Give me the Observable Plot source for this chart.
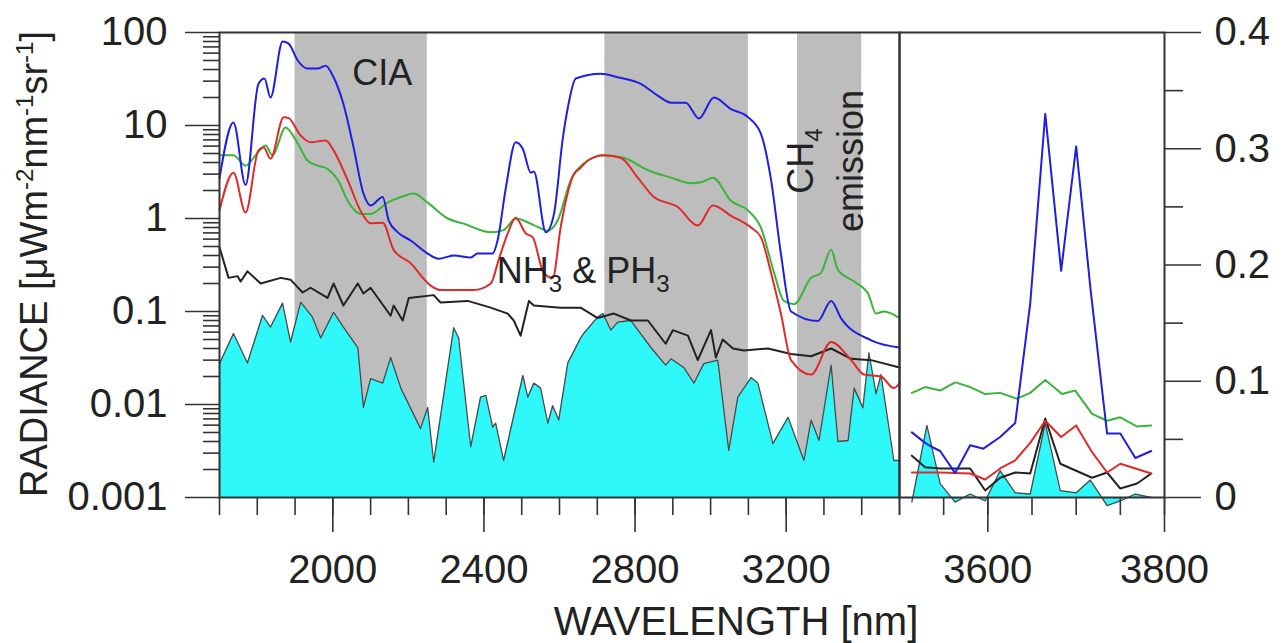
<!DOCTYPE html>
<html><head><meta charset="utf-8">
<script src="https://cdn.jsdelivr.net/npm/d3@7"></script>
<script src="https://cdn.jsdelivr.net/npm/@observablehq/plot@0.6"></script>
<style>
body{margin:0;background:#fff;font-family:"Liberation Sans",Arial,sans-serif;}
#chart{position:relative;width:1284px;height:643px;overflow:hidden;}
#chart svg{position:absolute;top:0;overflow:visible;}
</style></head><body><div id="chart"></div>
<script>
// ---------- data ----------
const bands = [{x1:1900,x2:2250},{x1:2720,x2:3100},{x1:3230,x2:3400}];

const blueLeft = [[1700,2.7],[1737,10.8],[1769,2.3],[1803,28],[1819,32],[1835,20],[1867,80],[1883,76],[1907,50],[1933,41],[1960,41],[1981,44],[2002,33],[2028,17],[2055,5.8],[2081,1.86],[2100,1.38],[2132,1.7],[2148,0.95],[2172,0.71],[2206,0.58],[2251,0.42],[2280,0.37],[2320,0.40],[2365,0.38],[2383,0.42],[2423,0.42],[2436,0.58],[2458,2.14],[2484,6.6],[2503,5.6],[2524,3.1],[2532,3.2],[2564,0.71],[2585,1.1],[2609,7.4],[2622,15.5],[2643,32],[2709,36],[2754,33],[2815,28],[2860,21],[2895,17.6],[2934,17.6],[2969,11.9],[3009,20],[3054,15],[3099,12.3],[3133,8.2],[3160,2.6],[3186,0.42],[3213,0.1],[3284,0.079],[3319,0.13],[3345,0.085],[3425,0.049],[3500,0.041]];

const redLeft = [[1700,1.22],[1737,3.1],[1769,1.16],[1803,5.4],[1817,5.8],[1835,4.4],[1870,12.3],[1883,12],[1915,7.8],[1941,6.6],[1981,6.9],[2002,5.4],[2039,2.6],[2074,1.2],[2100,0.89],[2132,0.9],[2161,0.46],[2206,0.33],[2259,0.19],[2285,0.17],[2373,0.17],[2418,0.2],[2439,0.36],[2463,0.69],[2484,1.02],[2511,0.69],[2529,0.63],[2558,0.26],[2582,0.23],[2603,0.8],[2622,1.9],[2638,3],[2656,3.5],[2675,4.2],[2717,4.8],[2762,4.5],[2807,2.75],[2850,1.7],[2913,1.33],[2966,0.84],[3006,1.38],[3054,1.07],[3107,0.8],[3133,0.63],[3160,0.26],[3186,0.095],[3213,0.03],[3266,0.021],[3319,0.047],[3372,0.03],[3406,0.021],[3451,0.02],[3485,0.015],[3500,0.017]];

const greenLeft = [[1700,4.8],[1737,4.8],[1769,3.7],[1801,5.1],[1822,6.1],[1840,4.8],[1875,9.5],[1907,6.4],[1933,4.2],[1960,3.7],[1981,3.5],[2013,2.6],[2042,1.48],[2074,1.12],[2100,1.12],[2145,1.48],[2180,1.7],[2214,1.86],[2251,1.48],[2304,1.0],[2346,0.88],[2418,0.71],[2452,0.75],[2484,1.0],[2532,0.85],[2569,0.74],[2595,0.95],[2630,2.6],[2664,3.9],[2717,4.8],[2770,4.5],[2834,3.3],[2895,2.75],[2948,2.4],[2974,2.45],[3006,2.75],[3054,1.55],[3099,1.22],[3133,0.8],[3168,0.26],[3194,0.13],[3221,0.12],[3266,0.23],[3292,0.26],[3319,0.46],[3337,0.28],[3380,0.21],[3417,0.155],[3438,0.095],[3459,0.1],[3500,0.085]];

const blackLeft = [[1700,0.49],[1724,0.23],[1748,0.24],[1756,0.21],[1774,0.27],[1809,0.2],[1862,0.23],[1888,0.22],[1920,0.16],[1941,0.18],[1986,0.14],[2002,0.2],[2028,0.116],[2066,0.2],[2081,0.156],[2100,0.18],[2153,0.09],[2161,0.116],[2185,0.08],[2201,0.14],[2267,0.15],[2285,0.125],[2357,0.13],[2418,0.11],[2463,0.095],[2479,0.08],[2497,0.055],[2519,0.13],[2532,0.116],[2603,0.11],[2656,0.11],[2701,0.085],[2744,0.095],[2789,0.08],[2834,0.08],[2881,0.045],[2900,0.063],[2940,0.055],[2966,0.03],[3001,0.063],[3014,0.032],[3032,0.05],[3059,0.04],[3088,0.038],[3152,0.04],[3213,0.035],[3266,0.033],[3319,0.04],[3372,0.031],[3425,0.03],[3500,0.025]];

const cyanLeft = [[1700,0.0275],[1737,0.058],[1774,0.028],[1814,0.091],[1835,0.068],[1867,0.123],[1888,0.047],[1915,0.126],[1946,0.087],[1968,0.052],[2002,0.098],[2028,0.068],[2066,0.041],[2081,0.0093],[2100,0.019],[2132,0.017],[2153,0.032],[2180,0.015],[2232,0.0055],[2251,0.0093],[2267,0.0024],[2320,0.067],[2333,0.052],[2365,0.0035],[2391,0.012],[2405,0.0125],[2423,0.0057],[2431,0.0063],[2452,0.0025],[2503,0.0205],[2516,0.012],[2532,0.017],[2550,0.015],[2569,0.0063],[2582,0.0097],[2598,0.0068],[2622,0.028],[2656,0.052],[2664,0.058],[2701,0.087],[2715,0.095],[2736,0.063],[2754,0.077],[2789,0.08],[2842,0.041],[2881,0.0265],[2895,0.031],[2929,0.025],[2956,0.017],[2982,0.0275],[3019,0.03],[3048,0.0032],[3072,0.012],[3107,0.0195],[3125,0.017],[3165,0.0038],[3205,0.0073],[3247,0.0025],[3266,0.0068],[3287,0.0041],[3319,0.0265],[3337,0.004],[3364,0.0041],[3380,0.015],[3403,0.0092],[3419,0.036],[3438,0.013],[3451,0.021],[3485,0.0025],[3500,0.0025]];

const blueRight = [[3514,0.056],[3529,0.047],[3538,0.043],[3546,0.040],[3563,0.021],[3580,0.045],[3595,0.042],[3614,0.052],[3631,0.064],[3648,0.167],[3665,0.330],[3683,0.195],[3700,0.302],[3716,0.181],[3735,0.055],[3750,0.055],[3767,0.034],[3785,0.040]];
const greenRight = [[3514,0.090],[3529,0.095],[3546,0.092],[3563,0.099],[3580,0.095],[3597,0.089],[3614,0.090],[3633,0.085],[3648,0.090],[3665,0.101],[3684,0.089],[3699,0.092],[3718,0.072],[3735,0.066],[3750,0.069],[3769,0.061],[3785,0.062]];
const redRight = [[3514,0.0215],[3546,0.0215],[3580,0.0206],[3597,0.0155],[3614,0.025],[3631,0.032],[3648,0.047],[3665,0.066],[3683,0.052],[3700,0.062],[3718,0.039],[3735,0.0215],[3750,0.029],[3785,0.0206]];
const blackRight = [[3514,0.036],[3529,0.026],[3546,0.025],[3580,0.025],[3597,0.006],[3614,0.017],[3631,0.0215],[3648,0.0206],[3665,0.068],[3682,0.029],[3700,0.023],[3718,0.017],[3735,0.0215],[3750,0.0077],[3769,0.012],[3785,0.0206]];
const cyanRight = [[3514,-0.004],[3531,0.062],[3546,0.012],[3563,-0.004],[3580,0.003],[3597,-0.003],[3614,0.023],[3631,0.004],[3648,0.003],[3665,0.064],[3682,0.006],[3700,0.004],[3716,0.015],[3735,-0.007],[3750,-0.003],[3767,0.003],[3785,0.0]];

// ticks
const yTicksLeft = [0.001, 0.01, 0.1, 1, 10, 100];
const yTickLabelsLeft = ["0.001", "0.01", "0.1", "1", "10", "100"];
const yMinorLeft = [0.002,0.003,0.004,0.005,0.006,0.007,0.008,0.009,0.02,0.03,0.04,0.05,0.06,0.07,0.08,0.09,0.2,0.3,0.4,0.5,0.6,0.7,0.8,0.9,2,3,4,5,6,7,8,9,20,30,40,50,60,70,80,90];
const xTicksLeft = [2000, 2400, 2800, 3200];
const xMinorLeft = [1700,1800,1900,2000,2100,2200,2300,2400,2500,2600,2700,2800,2900,3000,3100,3200,3300,3400,3500];
const yTicksRight = [0, 0.1, 0.2, 0.3, 0.4];
const yTickLabelsRight = ["0", "0.1", "0.2", "0.3", "0.4"];
const yMinorRight = [0.05, 0.15, 0.25, 0.35];
const xTicksRight = [3600, 3800];
const xMinorRight = [3500, 3550, 3600, 3650, 3700, 3750, 3800];

const YMIN = 0.001;
const FONT = "'Liberation Sans', Arial, Helvetica, sans-serif";
const C = {blue:"#1f1fe0", red:"#e02a2a", green:"#3cb43c", black:"#222222", cyan:"#2ff8fa", outline:"#4a4a4a", band:"#bdbdbd", axis:"#333333"};

const X = d => d[0], Y = d => d[1];
const lineOpts = (c, curve = "linear") => ({x: X, y: Y, stroke: c, strokeWidth: 2, curve});

// ---------- left panel ----------
const left = Plot.plot({
  width: 900, height: 643,
  marginLeft: 219, marginRight: 1, marginTop: 32, marginBottom: 146,
  style: {background: "transparent", overflow: "visible", fontFamily: FONT, color: "#222"},
  x: {domain: [1700, 3500]},
  y: {type: "log", domain: [0.001, 100]},
  marks: [
    Plot.rect(bands, {x1: "x1", x2: "x2", fill: C.band}),
    Plot.areaY(cyanLeft, {x: X, y1: YMIN, y2: Y, fill: C.cyan}),
    Plot.line(cyanLeft, {x: X, y: Y, stroke: C.outline, strokeWidth: 1.3}),
    Plot.line(blackLeft, lineOpts(C.black)),
    Plot.line(greenLeft, lineOpts(C.green, "monotone-x")),
    Plot.line(redLeft, lineOpts(C.red, "monotone-x")),
    Plot.line(blueLeft, lineOpts(C.blue, "monotone-x")),
    Plot.axisY(yMinorLeft, {anchor: "left", tickSize: 16, tickFormat: () => "", label: null, stroke: C.axis, strokeWidth: 1.6}),
    Plot.axisY(yTicksLeft, {anchor: "left", tickSize: 34, tickPadding: 18, fontSize: 40, label: null,
      tickFormat: d => yTickLabelsLeft[yTicksLeft.indexOf(d)], stroke: C.axis, strokeWidth: 1.6}),
    Plot.axisX(xMinorLeft, {anchor: "bottom", tickSize: 18, tickFormat: () => "", label: null, stroke: C.axis, strokeWidth: 1.6}),
    Plot.axisX(xTicksLeft, {anchor: "bottom", tickSize: 35, tickPadding: 22, fontSize: 40, label: null,
      tickFormat: d => String(d), stroke: C.axis, strokeWidth: 1.6}),
    Plot.frame({stroke: C.axis, strokeWidth: 2})
  ]
});

// ---------- right panel ----------
const right = Plot.plot({
  width: 385, height: 643,
  marginLeft: 0, marginRight: 120, marginTop: 32, marginBottom: 146,
  style: {background: "transparent", overflow: "visible", fontFamily: FONT, color: "#222"},
  x: {domain: [3500, 3800]},
  y: {domain: [0, 0.4]},
  marks: [
    Plot.areaY(cyanRight, {x: X, y: Y, fill: C.cyan}),
    Plot.line(cyanRight, {x: X, y: Y, stroke: C.outline, strokeWidth: 1.3}),
    Plot.line(blackRight, lineOpts(C.black)),
    Plot.line(redRight, lineOpts(C.red)),
    Plot.line(greenRight, lineOpts(C.green)),
    Plot.line(blueRight, lineOpts(C.blue)),
    Plot.axisY(yMinorRight, {anchor: "right", tickSize: 18, tickFormat: () => "", label: null, stroke: C.axis, strokeWidth: 1.6}),
    Plot.axisY(yTicksRight, {anchor: "right", tickSize: 36, tickPadding: 14, fontSize: 40, label: null,
      tickFormat: d => yTickLabelsRight[yTicksRight.indexOf(d)], stroke: C.axis, strokeWidth: 1.6}),
    Plot.axisX(xMinorRight, {anchor: "bottom", tickSize: 18, tickFormat: () => "", label: null, stroke: C.axis, strokeWidth: 1.6}),
    Plot.axisX(xTicksRight, {anchor: "bottom", tickSize: 35, tickPadding: 22, fontSize: 40, label: null,
      tickFormat: d => String(d), stroke: C.axis, strokeWidth: 1.6}),
    Plot.frame({stroke: C.axis, strokeWidth: 2})
  ]
});

left.style.left = "0px";
right.style.left = "899px";
const chart = document.getElementById("chart");
chart.appendChild(left);
chart.appendChild(right);

// ---------- annotations (positioned through the plot's own scales) ----------
const sx = left.scale("x"), sy = left.scale("y");
const g = d3.select(left).append("g").attr("font-family", FONT).attr("fill", "#222");

function richText(t, parts, subSize, shift) {
  let offset = 0;
  parts.forEach(p => {
    if (typeof p === "string") {
      t.append("tspan").attr("dy", -offset).text(p); offset = 0;
    } else {
      const d = p.sub ? shift : -shift;
      t.append("tspan").attr("font-size", subSize).attr("dy", d - offset).text(p.t); offset = d;
    }
  });
}

// CIA
g.append("text").attr("x", sx.apply(2132)).attr("y", sy.apply(27)).attr("text-anchor", "middle")
  .attr("font-size", 36).text("CIA");

// NH3 & PH3
const nh = g.append("text").attr("x", sx.apply(2664)).attr("y", sy.apply(0.2)).attr("font-size", 36);
richText(nh, ["NH", {t: "3", sub: true}, " & PH", {t: "3", sub: true}], 24, 9);

// CH4 emission (rotated)
const ch = g.append("text").attr("transform", `translate(${sx.apply(3273)},${sy.apply(4.1)}) rotate(-90)`)
  .attr("text-anchor", "middle").attr("font-size", 36);
richText(ch, ["CH", {t: "4", sub: true}], 24, 9);
g.append("text").attr("transform", `translate(${sx.apply(3406)},${sy.apply(4.1)}) rotate(-90)`)
  .attr("text-anchor", "middle").attr("font-size", 36).text("emission");

// axis titles
const yl = g.append("text").attr("transform", "translate(47,264) rotate(-90)")
  .attr("text-anchor", "middle").attr("font-size", 38);
richText(yl, ["RADIANCE [μWm", {t: "-2", sub: false}, "nm", {t: "-1", sub: false}, "sr", {t: "-1", sub: false}, "]"], 24, 14);

g.append("text").attr("x", 736).attr("y", 635).attr("text-anchor", "middle")
  .attr("font-size", 40).text("WAVELENGTH [nm]");
</script>
</body></html>
